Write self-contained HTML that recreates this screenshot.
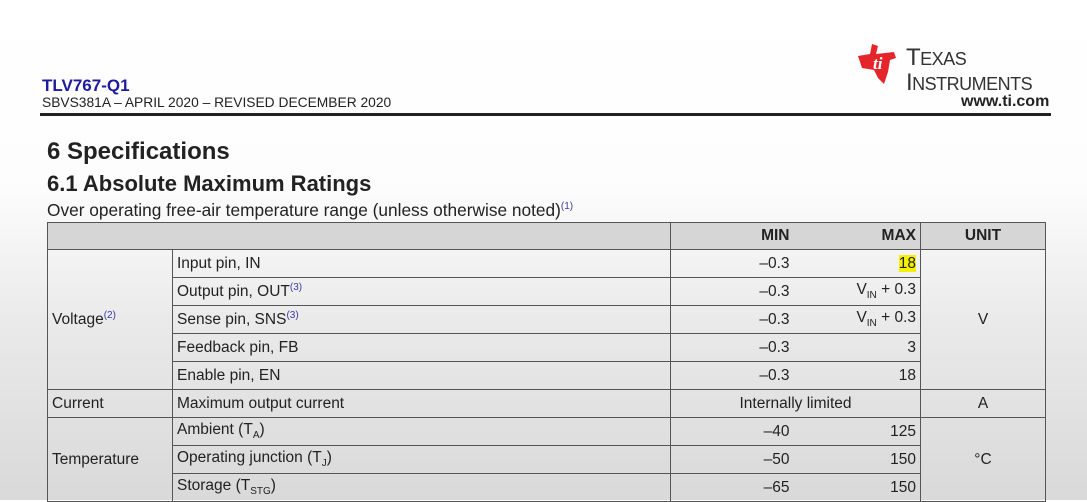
<!DOCTYPE html>
<html><head><meta charset="utf-8"><style>
body{margin:0;width:1087px;height:500px;overflow:hidden;position:relative;font-family:"Liberation Sans",Arial,sans-serif;color:#222;background:linear-gradient(#ffffff 0px,#fdfdfd 180px,#e9e9e9 330px,#d9d9d9 500px);}
.a{position:absolute;white-space:nowrap;}
table{position:absolute;left:47px;top:222px;border-collapse:collapse;font-size:15.5px;table-layout:fixed;width:998px;}
td{border:1.5px solid #555;height:26px;padding:0 4px;overflow:hidden;white-space:nowrap;}
tr.r td{height:27px;}
td.mn{border-right:none;text-align:right;padding-right:6px;}
td.mx{border-left:none;text-align:right;}
sup{font-size:10px;color:#3a3aa0;}
sub{font-size:10px;}
</style></head><body>
<div class="a" style="left:42px;top:76px;font-size:17px;font-weight:bold;color:#1c1c9c;">TLV767-Q1</div>
<div class="a" style="left:42px;top:95px;font-size:13.8px;">SBVS381A – APRIL 2020 – REVISED DECEMBER 2020</div>
<div class="a" style="left:856px;top:42px;">
<svg width="48" height="44" viewBox="0 0 48 44"><path d="M2 14 L14 12 L16 2 L22 4 L20 12 L38 10 L40 16 L34 18 L32 30 L28 42 L22 36 L18 28 L6 26 Z" fill="#e4262b"/><text x="17" y="27" font-size="17" font-style="italic" font-weight="bold" fill="#fff" font-family="Liberation Serif">ti</text></svg></div>
<div class="a" style="left:906px;top:46px;font-family:'Liberation Sans',sans-serif;font-size:24px;line-height:24px;color:#333;letter-spacing:-0.5px;">T<span style="font-size:18px">EXAS</span><br>I<span style="font-size:18px">NSTRUMENTS</span></div>
<div class="a" style="left:961px;top:93px;font-size:16px;font-weight:bold;">www.ti.com</div>
<div class="a" style="left:40px;top:113px;width:1011px;height:3px;background:#222;"></div>
<div class="a" style="left:47px;top:138px;font-size:24px;font-weight:bold;">6 Specifications</div>
<div class="a" style="left:47px;top:171px;font-size:22px;font-weight:bold;">6.1 Absolute Maximum Ratings</div>
<div class="a" style="left:47px;top:200px;font-size:17.3px;">Over operating free-air temperature range (unless otherwise noted)<sup>(1)</sup></div>
<table>
<colgroup><col style="width:125px"><col style="width:498px"><col style="width:125px"><col style="width:125px"><col style="width:125px"></colgroup>
<tr style="background:#d6d6d6;font-weight:bold;"><td colspan="2"></td><td class="mn">MIN</td><td class="mx">MAX</td><td style="text-align:center">UNIT</td></tr>
<tr class="r"><td rowspan="5">Voltage<sup>(2)</sup></td><td>Input pin, IN</td><td class="mn">–0.3</td><td class="mx"><span style="background:#f4f000">18</span></td><td rowspan="5" style="text-align:center">V</td></tr>
<tr class="r"><td>Output pin, OUT<sup>(3)</sup></td><td class="mn">–0.3</td><td class="mx">V<sub>IN</sub> + 0.3</td></tr>
<tr class="r"><td>Sense pin, SNS<sup>(3)</sup></td><td class="mn">–0.3</td><td class="mx">V<sub>IN</sub> + 0.3</td></tr>
<tr class="r"><td>Feedback pin, FB</td><td class="mn">–0.3</td><td class="mx">3</td></tr>
<tr class="r"><td>Enable pin, EN</td><td class="mn">–0.3</td><td class="mx">18</td></tr>
<tr class="r"><td>Current</td><td>Maximum output current</td><td colspan="2" style="text-align:center">Internally limited</td><td style="text-align:center">A</td></tr>
<tr class="r"><td rowspan="3">Temperature</td><td>Ambient (T<sub>A</sub>)</td><td class="mn">–40</td><td class="mx">125</td><td rowspan="3" style="text-align:center">°C</td></tr>
<tr class="r"><td>Operating junction (T<sub>J</sub>)</td><td class="mn">–50</td><td class="mx">150</td></tr>
<tr class="r"><td>Storage (T<sub>STG</sub>)</td><td class="mn">–65</td><td class="mx">150</td></tr>
</table>
</body></html>
